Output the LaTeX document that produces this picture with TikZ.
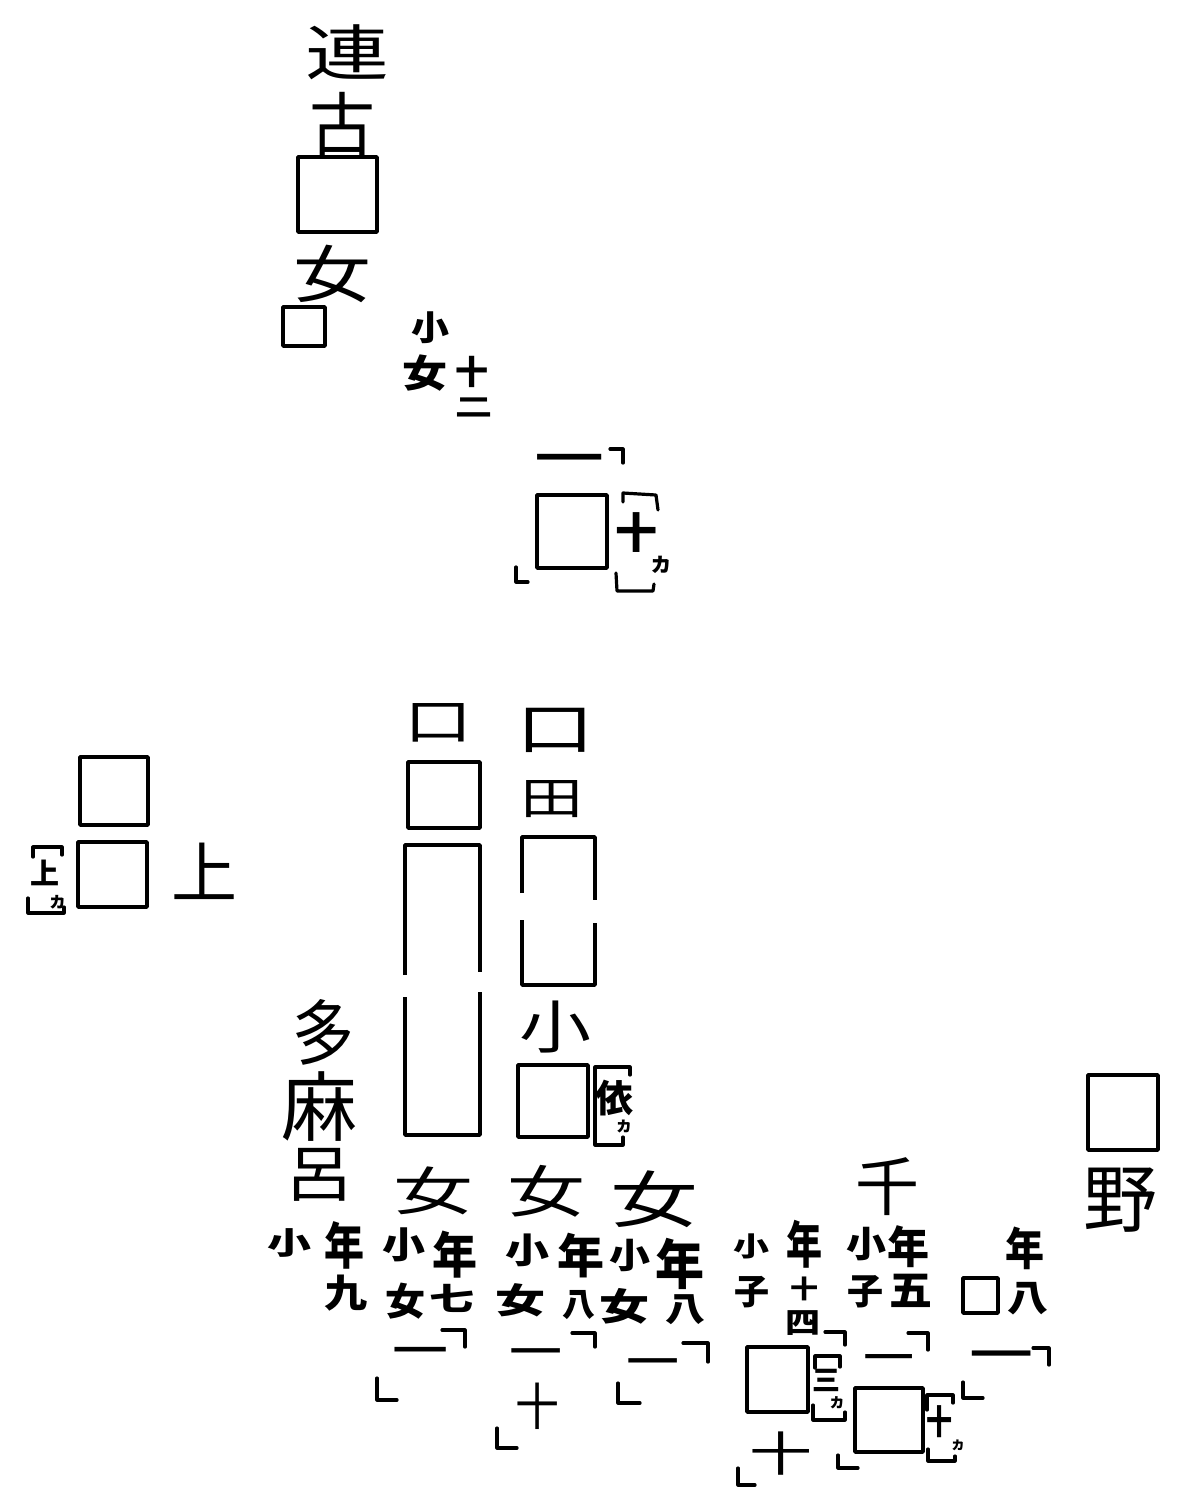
\documentclass[tikz,border=0pt]{standalone}
\usepackage{fontspec}
\newfontfamily\cjk{Noto Sans CJK JP}
\tikzset{
  zi/.style={inner sep=0pt, outer sep=0pt, font=\cjk},
  zb/.style={inner sep=0pt, outer sep=0pt, font=\cjk\bfseries},
  bx/.style={draw, line width=3.5pt, line join=round},
  mk/.style={draw, line width=3.2pt, line cap=round, line join=round}
}
\newcommand\zi[6]{\node[zi] (#1) at (#2,#3) {\fontsize{#4}{#4}\selectfont\scalebox{1}[#5]{#6}};}
\newcommand\zb[6]{\node[zb] (#1) at (#2,#3) {\fontsize{#4}{#4}\selectfont\scalebox{1}[#5]{#6}};}
\newcommand\cornerUR[4]{\draw[mk] (#1,#2) -| (#3,#4);}
\newcommand\cornerLL[4]{\draw[mk] (#1,#2) |- (#3,#4);}
\begin{document}
\begin{tikzpicture}[x=1pt,y=-1pt]
\fill[white] (0,0) rectangle (1182,1501);
\useasboundingbox (0,0) rectangle (1182,1501);
% top column
\zi{lian}{347}{52}{84}{0.72}{連}
\zi{gu}{342}{124}{66}{1.05}{古}
\draw[bx] (298,157) rectangle (377,232);
\zi{nv1}{332}{274}{78}{0.8}{女}
\draw[bx] (283,307) rectangle (325,346);
\zb{xiao1}{430}{328}{38}{0.9}{小}
\zb{nv2}{425}{373}{45}{0.85}{女}
\zb{shi1}{472}{372}{33}{1}{十}
\zb{er1}{474}{407}{37}{0.7}{二}
% section 2
\zi{yi1}{569}{469}{70}{1}{一}
\draw[bx] (537,495) rectangle (607,568);
\cornerUR{610}{449}{623}{463}
\cornerLL{516}{567}{528}{582}
\draw[mk] (623,502) -- (623,493) -- (656,495) -- (658,510);
\zb{shi2}{636}{533}{42}{1}{十}
\zb{ka1}{661}{565}{24}{1}{ヵ}
\draw[mk] (616,573) -- (617,591) -- (653,591) -- (654,584);
% section 3
\draw[bx] (80,757) rectangle (148,825);
\draw[bx] (78,842) rectangle (147,907);
\zi{shang1}{204}{871}{66}{1}{上}
\draw[mk] (33,857) -- (33,847) -- (62,847) -- (62,855);
\zb{shang2}{45}{873}{29}{1}{上}
\draw[mk] (28,898) -- (28,913) -- (64,913) -- (64,907);
\zb{ka2}{58}{902}{19}{1}{ヵ}
% section 4
\zi{kou1}{438}{723}{68}{0.72}{口}
\draw[bx] (408,762) rectangle (480,828);
\draw[bx] (405,975) -- (405,845) -- (480,845) -- (480,972);
\draw[bx] (405,997) -- (405,1135) -- (480,1135) -- (480,992);
\zi{kou2}{555}{730}{78}{0.72}{口}
\zi{tian}{552}{799}{63}{0.7}{田}
\draw[bx] (522,893) -- (522,837) -- (595,837) -- (595,900);
\draw[bx] (522,920) -- (522,985) -- (595,985) -- (595,923);
\zi{xiao2}{555}{1027}{72}{0.8}{小}
\draw[bx] (518,1065) rectangle (588,1137);
\draw[mk] (630,1075) -- (630,1067) -- (595,1067) -- (595,1145) -- (623,1145) -- (623,1137);
\zb{yidep}{614}{1098}{38}{1}{依}
\zb{ka3}{624}{1127}{18}{1}{ヵ}
% bottom big characters
\zi{duo}{323}{1032}{62}{1.15}{多}
\zi{ma}{319}{1107}{76}{1}{麻}
\zi{lv}{319}{1175}{68}{0.9}{呂}
\zi{nv3}{433}{1191}{80}{0.65}{女}
\zi{nv4}{546}{1191}{78}{0.72}{女}
\zi{nv5}{654}{1199}{88}{0.7}{女}
\zi{qian}{887}{1187}{64}{1}{千}
\zi{ye}{1120}{1200}{74}{1}{野}
\draw[bx] (1088,1075) rectangle (1158,1150);
% column A
\zb{a1}{289}{1243}{44}{0.7}{小}
\zb{a2}{344}{1245}{40}{1.25}{年}
\zb{a3}{346}{1293}{43}{0.9}{九}
% column B
\zb{b1}{404}{1245}{43}{0.85}{小}
\zb{b2}{455}{1255}{45}{1.1}{年}
\zb{b3}{405}{1301}{40}{0.95}{女}
\zb{b4}{452}{1298}{45}{0.7}{七}
\cornerUR{442}{1330}{465}{1347}
\zi{b5}{420}{1359}{56}{1}{一}
\cornerLL{377}{1378}{397}{1400}
% column C
\zb{c1}{527}{1250}{44}{0.8}{小}
\zb{c2}{581}{1256}{47}{1}{年}
\zb{c3}{520}{1300}{50}{0.7}{女}
\zb{c4}{579}{1305}{33}{1}{八}
\cornerUR{572}{1333}{595}{1347}
\zi{c5}{536}{1360}{53}{1}{一}
\zi{c6}{537}{1406}{44}{1.15}{十}
\cornerLL{497}{1428}{517}{1448}
% column D
\zb{d1}{630}{1255}{41}{0.85}{小}
\zb{d2}{680}{1264}{49}{1.1}{年}
\zb{d3}{624}{1306}{50}{0.75}{女}
\zb{d4}{685}{1310}{40}{0.85}{八}
\cornerUR{683}{1343}{708}{1362}
\zi{d5}{653}{1370}{53}{1}{一}
\cornerLL{618}{1383}{640}{1403}
% column E
\zb{e1}{751}{1246}{36}{0.75}{小}
\zb{e2}{804}{1244}{36}{1.4}{年}
\zb{e3}{752}{1292}{35}{1}{子}
\zb{e4}{804}{1289}{28}{0.9}{十}
\zb{e5}{803}{1323}{35}{0.85}{四}
\cornerUR{825}{1332}{845}{1345}
\draw[bx] (747,1347) rectangle (808,1412);
\draw[mk] (840,1367) -- (840,1356) -- (815,1356) -- (815,1368);
\draw[mk] (813,1405) -- (813,1420) -- (845,1420) -- (845,1412);
\zb{e6}{826}{1380}{28}{1}{三}
\zb{e7}{837}{1403}{17}{1}{ヵ}
\zi{e8}{781}{1454}{63}{0.75}{十}
\cornerLL{738}{1468}{755}{1485}
% column F
\zb{f1}{866}{1244}{40}{0.9}{小}
\zb{f2}{908}{1247}{42}{1.05}{年}
\zb{f3}{865}{1292}{36}{1}{子}
\zb{f4}{911}{1291}{43}{0.95}{五}
\cornerUR{908}{1333}{928}{1350}
\zi{f5}{889}{1365}{51}{1}{一}
\draw[bx] (855,1388) rectangle (923,1452);
\cornerLL{838}{1455}{858}{1468}
\draw[mk] (927,1410) -- (927,1395) -- (953,1395) -- (953,1403);
\zb{f6}{939}{1422}{26}{1.3}{十}
\zb{f7}{958}{1445}{15}{1}{ヵ}
\draw[mk] (928,1449) -- (928,1461) -- (955,1461) -- (955,1456);
% column G
\draw[bx] (963,1278) rectangle (998,1313);
\zb{g1}{1025}{1248}{39}{1.15}{年}
\zb{g2}{1028}{1299}{41}{0.9}{八}
\cornerUR{1033}{1348}{1049}{1365}
\zi{g3}{1001}{1365}{64}{1}{一}
\cornerLL{963}{1382}{983}{1398}
\end{tikzpicture}
\end{document}
